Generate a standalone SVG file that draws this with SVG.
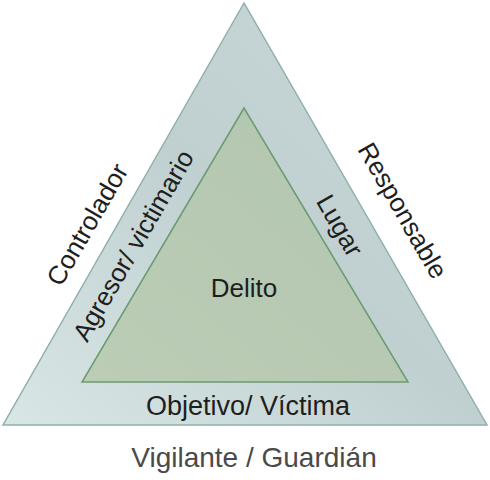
<svg xmlns="http://www.w3.org/2000/svg" width="490" height="480" viewBox="0 0 490 480">
<defs>
<linearGradient id="gOuter" x1="0" y1="1" x2="1" y2="0">
<stop offset="0" stop-color="#d9e6e6"/>
<stop offset="0.5" stop-color="#c0d0d0"/>
<stop offset="1" stop-color="#c9d8d8"/>
</linearGradient>
<linearGradient id="gInner" x1="0" y1="1" x2="1" y2="0">
<stop offset="0" stop-color="#bccdb6"/>
<stop offset="1" stop-color="#b2c5ae"/>
</linearGradient>
<style>
.t{font-family:"Liberation Sans",Arial,sans-serif;font-size:26px;fill:#1e1e1e;text-anchor:middle}
.g{fill:#4a4a4a}
</style>
</defs>
<rect width="490" height="480" fill="#ffffff"/>
<g id="outer">
<polygon points="244,3 3,425 487,425" fill="url(#gOuter)" stroke="#8fb0ad" stroke-width="1.5"/>
</g>
<g id="inner">
<polygon points="244,108 82,382 408,382" fill="url(#gInner)" stroke="#6b9a72" stroke-width="1.5"/>
</g>
<g id="labels">
<text class="t" x="244" y="297">Delito</text>
<text class="t" x="248" y="415" style="font-size:27px">Objetivo/ Víctima</text>
<text class="t g" x="254" y="467" style="font-size:28px">Vigilante / Guardián</text>
<text class="t" transform="translate(95,229) rotate(-60)">Controlador</text>
<text class="t" transform="translate(141,250) rotate(-60)">Agresor/ victimario</text>
<text class="t" transform="translate(332,230) rotate(60)">Lugar</text>
<text class="t" transform="translate(395,215) rotate(60)">Responsable</text>
</g>
</svg>
